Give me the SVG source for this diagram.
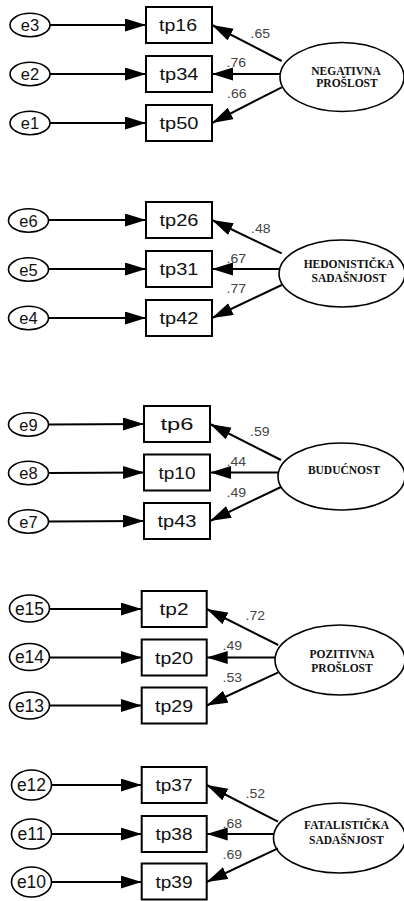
<svg xmlns="http://www.w3.org/2000/svg" width="404" height="901" viewBox="0 0 404 901">
<defs>
<marker id="ah" markerUnits="userSpaceOnUse" markerWidth="22" markerHeight="14" refX="21" refY="6.5" orient="auto">
<path d="M0,0 L21,6.5 L0,13 z" fill="#000"/>
</marker>
<style>
.err ellipse{fill:#fff;stroke:#000;stroke-width:1.6}
.err text{font-family:"Liberation Sans",Arial,sans-serif;font-size:16.5px;text-anchor:middle;fill:#111}
.err.big text{font-size:17.5px}
.obs rect{fill:#fff;stroke:#000;stroke-width:2}
.obs text{font-family:"Liberation Sans",Arial,sans-serif;font-size:17px;text-anchor:middle;fill:#111}
.lat ellipse{fill:#fff;stroke:#000;stroke-width:1.6}
.lat text{font-family:"Liberation Serif","Times New Roman",serif;font-size:11.5px;font-weight:bold;text-anchor:middle;fill:#111}
#connectors line{stroke:#000;stroke-width:2;marker-end:url(#ah)}
.lbl{font-family:"Liberation Sans",Arial,sans-serif;font-size:12px;fill:#444}
</style>
</defs>

<!-- Block 1 -->
<g id="e3" class="err"><ellipse cx="30" cy="25" rx="20" ry="11.7"/><text x="30" y="31">e3</text></g>
<g id="e2" class="err"><ellipse cx="30" cy="74" rx="20" ry="11.7"/><text x="30" y="80">e2</text></g>
<g id="e1" class="err"><ellipse cx="30" cy="123" rx="20" ry="11.7"/><text x="30" y="129">e1</text></g>
<g id="tp16" class="obs"><rect x="146" y="7" width="66" height="36"/><text x="178" y="31" textLength="38" lengthAdjust="spacingAndGlyphs">tp16</text></g>
<g id="tp34" class="obs"><rect x="146" y="56" width="66" height="36"/><text x="179" y="80" textLength="39" lengthAdjust="spacingAndGlyphs">tp34</text></g>
<g id="tp50" class="obs"><rect x="146" y="105" width="66" height="36"/><text x="179" y="129" textLength="39" lengthAdjust="spacingAndGlyphs">tp50</text></g>
<g id="negativna" class="lat"><ellipse cx="342" cy="77" rx="62" ry="34.5"/><text x="346" y="74.5">NEGATIVNA</text><text x="347" y="87">PROŠLOST</text></g>

<!-- Block 2 -->
<g id="e6" class="err"><ellipse cx="28.5" cy="220.5" rx="20" ry="11.7"/><text x="28.5" y="226.5">e6</text></g>
<g id="e5" class="err"><ellipse cx="28.5" cy="269.5" rx="20" ry="11.7"/><text x="28.5" y="275.5">e5</text></g>
<g id="e4" class="err"><ellipse cx="28.5" cy="318" rx="20" ry="11.7"/><text x="28.5" y="324">e4</text></g>
<g id="tp26" class="obs"><rect x="146" y="202" width="66" height="36"/><text x="179" y="226" textLength="39" lengthAdjust="spacingAndGlyphs">tp26</text></g>
<g id="tp31" class="obs"><rect x="146" y="251" width="66" height="36"/><text x="179" y="275" textLength="39" lengthAdjust="spacingAndGlyphs">tp31</text></g>
<g id="tp42" class="obs"><rect x="146" y="300" width="66" height="36"/><text x="179" y="324" textLength="39" lengthAdjust="spacingAndGlyphs">tp42</text></g>
<g id="hedonisticka" class="lat"><ellipse cx="342" cy="273.5" rx="63" ry="33.5"/><text x="349" y="267.5">HEDONISTIČKA</text><text x="349" y="282">SADAŠNJOST</text></g>

<!-- Block 3 -->
<g id="e9" class="err"><ellipse cx="28.5" cy="424.5" rx="20" ry="11.7"/><text x="28.5" y="430.5">e9</text></g>
<g id="e8" class="err"><ellipse cx="28.5" cy="473" rx="20" ry="11.7"/><text x="28.5" y="479">e8</text></g>
<g id="e7" class="err"><ellipse cx="28.5" cy="521.5" rx="20" ry="11.7"/><text x="28.5" y="527.5">e7</text></g>
<g id="tp6" class="obs"><rect x="144" y="406" width="66" height="36"/><text x="177" y="430" textLength="33" lengthAdjust="spacingAndGlyphs">tp6</text></g>
<g id="tp10" class="obs"><rect x="144" y="454.5" width="66" height="36"/><text x="177" y="478.5" textLength="37" lengthAdjust="spacingAndGlyphs">tp10</text></g>
<g id="tp43" class="obs"><rect x="144" y="503" width="66" height="36"/><text x="177" y="527" textLength="39" lengthAdjust="spacingAndGlyphs">tp43</text></g>
<g id="buducnost" class="lat"><ellipse cx="341.5" cy="476.5" rx="63.5" ry="33.5"/><text x="344" y="473.5">BUDUĆNOST</text></g>

<!-- Block 4 -->
<g id="e15" class="err big"><ellipse cx="29.5" cy="608.5" rx="20" ry="13.5"/><text x="29.5" y="614.8">e15</text></g>
<g id="e14" class="err big"><ellipse cx="29.5" cy="657" rx="20" ry="13.5"/><text x="29.5" y="663.3">e14</text></g>
<g id="e13" class="err big"><ellipse cx="29.5" cy="705.5" rx="20" ry="13.5"/><text x="29.5" y="711.8">e13</text></g>
<g id="tp2" class="obs"><rect x="141.7" y="591" width="65" height="36"/><text x="174" y="615" textLength="29" lengthAdjust="spacingAndGlyphs">tp2</text></g>
<g id="tp20" class="obs"><rect x="141.7" y="639.5" width="65" height="36"/><text x="174" y="663.5" textLength="38" lengthAdjust="spacingAndGlyphs">tp20</text></g>
<g id="tp29" class="obs"><rect x="141.7" y="687.5" width="65" height="36"/><text x="174" y="711.5" textLength="38" lengthAdjust="spacingAndGlyphs">tp29</text></g>
<g id="pozitivna" class="lat"><ellipse cx="340" cy="660" rx="65" ry="35"/><text x="342" y="658">POZITIVNA</text><text x="342" y="671.5">PROŠLOST</text></g>

<!-- Block 5 -->
<g id="e12" class="err big"><ellipse cx="31.5" cy="785" rx="20" ry="15"/><text x="31.5" y="791.3">e12</text></g>
<g id="e11" class="err big"><ellipse cx="31.5" cy="834" rx="20" ry="15"/><text x="31.5" y="840.3">e11</text></g>
<g id="e10" class="err big"><ellipse cx="31.5" cy="882" rx="20" ry="15"/><text x="31.5" y="888.3">e10</text></g>
<g id="tp37" class="obs"><rect x="141.7" y="767" width="65" height="36"/><text x="174" y="791" textLength="37" lengthAdjust="spacingAndGlyphs">tp37</text></g>
<g id="tp38" class="obs"><rect x="141.7" y="816" width="65" height="36"/><text x="174" y="840" textLength="37" lengthAdjust="spacingAndGlyphs">tp38</text></g>
<g id="tp39" class="obs"><rect x="141.7" y="863.5" width="65" height="36"/><text x="174" y="887.5" textLength="37" lengthAdjust="spacingAndGlyphs">tp39</text></g>
<g id="fatalisticka" class="lat"><ellipse cx="339.5" cy="838" rx="66" ry="35"/><text x="346.5" y="828.5">FATALISTIČKA</text><text x="346.5" y="843.5">SADAŠNJOST</text></g>

<g id="connectors">
<!-- block 1 -->
<line x1="50" y1="25" x2="146" y2="25"/>
<line x1="50" y1="74" x2="146" y2="74"/>
<line x1="50" y1="123" x2="146" y2="123"/>
<line x1="281.7" y1="61" x2="212" y2="25"/>
<line x1="280" y1="74" x2="212" y2="74"/>
<line x1="281.7" y1="87.3" x2="212" y2="123"/>
<!-- block 2 -->
<line x1="48.5" y1="220" x2="146" y2="220"/>
<line x1="48.5" y1="269" x2="146" y2="269"/>
<line x1="48.5" y1="318" x2="146" y2="318"/>
<line x1="281.7" y1="253.3" x2="212" y2="220"/>
<line x1="279.3" y1="269" x2="212" y2="269"/>
<line x1="281.7" y1="285" x2="212" y2="318"/>
<!-- block 3 -->
<line x1="48.5" y1="424.5" x2="144" y2="424"/>
<line x1="48.5" y1="473" x2="144" y2="472.5"/>
<line x1="48.5" y1="521.5" x2="144" y2="521"/>
<line x1="281" y1="460" x2="210" y2="424"/>
<line x1="278" y1="472.5" x2="210" y2="472.5"/>
<line x1="281" y1="487" x2="210" y2="521"/>
<!-- block 4 -->
<line x1="49.5" y1="609" x2="141.7" y2="609"/>
<line x1="49.5" y1="657.5" x2="141.7" y2="657.5"/>
<line x1="49.5" y1="705.5" x2="141.7" y2="705.5"/>
<line x1="278.3" y1="645" x2="206.7" y2="609"/>
<line x1="275" y1="657.5" x2="206.7" y2="657.5"/>
<line x1="278.3" y1="672.3" x2="206.7" y2="705.5"/>
<!-- block 5 -->
<line x1="51.5" y1="785" x2="141.7" y2="785"/>
<line x1="51.5" y1="834" x2="141.7" y2="834"/>
<line x1="51.5" y1="882" x2="141.7" y2="882"/>
<line x1="278" y1="821.7" x2="206.7" y2="785"/>
<line x1="273.5" y1="834" x2="206.7" y2="834"/>
<line x1="278" y1="848.3" x2="206.7" y2="882"/>
</g>

<g id="labels">
<text class="lbl" x="250.5" y="38.3" textLength="19.5" lengthAdjust="spacingAndGlyphs">.65</text>
<text class="lbl" x="226.5" y="66.7" textLength="19.5" lengthAdjust="spacingAndGlyphs">.76</text>
<text class="lbl" x="227" y="98.3" textLength="19.5" lengthAdjust="spacingAndGlyphs">.66</text>
<text class="lbl" x="251" y="232.7" textLength="19.5" lengthAdjust="spacingAndGlyphs">.48</text>
<text class="lbl" x="226.5" y="262.7" textLength="19.5" lengthAdjust="spacingAndGlyphs">.67</text>
<text class="lbl" x="226.5" y="293.3" textLength="19.5" lengthAdjust="spacingAndGlyphs">.77</text>
<text class="lbl" x="250" y="436" textLength="19.5" lengthAdjust="spacingAndGlyphs">.59</text>
<text class="lbl" x="226.5" y="466" textLength="19.5" lengthAdjust="spacingAndGlyphs">.44</text>
<text class="lbl" x="226.5" y="496.7" textLength="19.5" lengthAdjust="spacingAndGlyphs">.49</text>
<text class="lbl" x="245.5" y="620" textLength="19.5" lengthAdjust="spacingAndGlyphs">.72</text>
<text class="lbl" x="222.5" y="650" textLength="19.5" lengthAdjust="spacingAndGlyphs">.49</text>
<text class="lbl" x="222.5" y="681.7" textLength="19.5" lengthAdjust="spacingAndGlyphs">.53</text>
<text class="lbl" x="245.5" y="798.3" textLength="19.5" lengthAdjust="spacingAndGlyphs">.52</text>
<text class="lbl" x="222.5" y="828.3" textLength="19.5" lengthAdjust="spacingAndGlyphs">.68</text>
<text class="lbl" x="222.5" y="859" textLength="19.5" lengthAdjust="spacingAndGlyphs">.69</text>
</g>
</svg>
